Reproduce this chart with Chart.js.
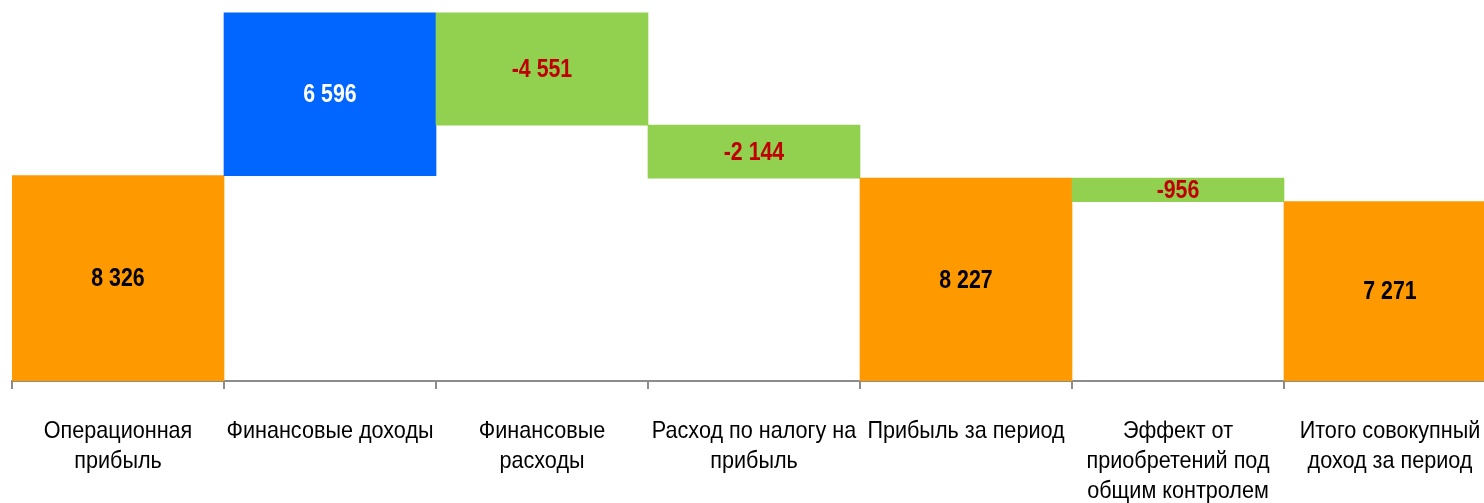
<!DOCTYPE html>
<html>
<head>
<meta charset="utf-8">
<script src="https://cdn.jsdelivr.net/npm/chart.js@4"></script>
<style>
  html, body { margin: 0; padding: 0; background: #fff; overflow: hidden; }
  canvas { display: block; }
</style>
</head>
<body>
<canvas id="wf" width="1508" height="503"></canvas>
<script>
const categories = [
    ["Операционная", "прибыль"],
    ["Финансовые доходы"],
    ["Финансовые", "расходы"],
    ["Расход по налогу на", "прибыль"],
    ["Прибыль за период"],
    ["Эффект от", "приобретений под", "общим контролем"],
    ["Итого совокупный", "доход за период"]
];
const values = [8326, 6596, -4551, -2144, 8227, -956, 7271];
const isTotal = [true, false, false, false, true, false, true];
const labelTexts = ["8 326", "6 596", "-4 551", "-2 144", "8 227", "-956", "7 271"];

const FONT = "'Liberation Sans', Arial, sans-serif";

// floating bars: totals start from zero, steps hang off the running sum
let running = 0;
const ranges = values.map((v, i) => {
    if (isTotal[i]) { running = v; return [0, v]; }
    const from = running;
    running += v;
    return [Math.min(from, running), Math.max(from, running)];
});
const barColors = values.map((v, i) => isTotal[i] ? "#FF9900" : (v > 0 ? "#0066FF" : "#92D050"));
const textColors = values.map((v, i) => isTotal[i] ? "#000000" : (v > 0 ? "#FFFFFF" : "#C00000"));

// no narrow font installed, so squeeze text horizontally
function narrowText(c, text, x, y, squeeze) {
    c.save();
    c.translate(x, y);
    c.scale(squeeze, 1);
    c.fillText(text, 0, 0);
    c.restore();
}

const labelsPlugin = {
    id: "labelsPlugin",
    afterDatasetsDraw(chart) {
        const c = chart.ctx;
        const meta = chart.getDatasetMeta(0);
        c.save();
        c.font = "bold 26px " + FONT;
        c.textAlign = "center";
        c.textBaseline = "middle";
        meta.data.forEach((bar, i) => {
            c.fillStyle = textColors[i];
            narrowText(c, labelTexts[i], bar.x, (bar.y + bar.base) / 2 + 1, 0.82);
        });
        c.restore();
    },
    afterDraw(chart) {
        const c = chart.ctx;
        const xs = chart.scales.x;
        const top = chart.chartArea.bottom;
        c.save();
        c.font = "24px " + FONT;
        c.fillStyle = "#000";
        c.textAlign = "center";
        c.textBaseline = "alphabetic";
        categories.forEach((lines, i) => {
            const x = xs.getPixelForValue(i);
            lines.forEach((ln, k) => narrowText(c, ln, x, top + 57 + k * 30, 0.9));
        });
        c.restore();
    }
};

new Chart(document.getElementById("wf"), {
    type: "bar",
    data: {
        labels: categories,
        datasets: [{
            data: ranges,
            backgroundColor: barColors,
            borderWidth: 0,
            barPercentage: 1,
            categoryPercentage: 1
        }]
    },
    options: {
        responsive: false,
        animation: false,
        layout: { padding: { left: 12, right: 12, top: 11, bottom: 0 } },
        plugins: { legend: { display: false }, tooltip: { enabled: false } },
        scales: {
            x: {
                afterFit(scale) { scale.height = 122; },
                border: { display: true, color: "#8C8C8C", width: 2 },
                grid: {
                    offset: true,
                    drawOnChartArea: false,
                    drawTicks: true,
                    tickLength: 8,
                    color: "#8C8C8C",
                    lineWidth: 2
                },
                ticks: { display: false }
            },
            y: {
                display: false,
                min: 0,
                max: 15000
            }
        }
    },
    plugins: [labelsPlugin]
});
</script>
</body>
</html>
